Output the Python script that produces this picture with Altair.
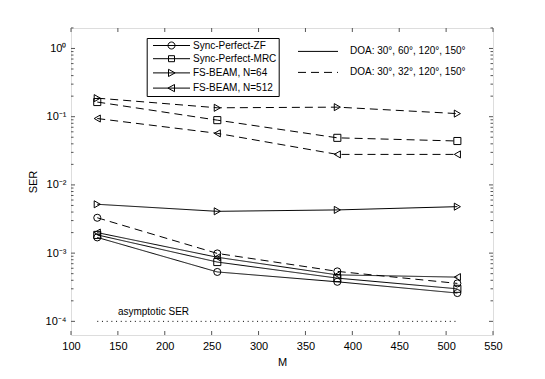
import altair as alt
import pandas as pd

# ---------------- data ----------------
M = [128, 256, 384, 512]
series_names = ["Sync-Perfect-ZF", "Sync-Perfect-MRC", "FS-BEAM, N=64", "FS-BEAM, N=512"]
doa_names = ["DOA: 30°, 60°, 120°, 150°", "DOA: 30°, 32°, 120°, 150°"]

# DOA 30,60,120,150 (solid)
zf_solid = [1.7e-3, 5.3e-4, 3.8e-4, 2.6e-4]
mrc_solid = [1.85e-3, 7.4e-4, 4.3e-4, 3.0e-4]
n64_solid = [5.2e-3, 4.1e-3, 4.3e-3, 4.8e-3]
n512_solid = [2.0e-3, 8.7e-4, 4.8e-4, 4.45e-4]
# DOA 30,32,120,150 (dashed)
zf_dashed = [3.3e-3, 9.9e-4, 5.4e-4, 3.6e-4]
mrc_dashed = [0.164, 0.089, 0.049, 0.044]
n64_dashed = [0.187, 0.135, 0.138, 0.111]
n512_dashed = [0.094, 0.057, 0.028, 0.028]

asym_M = [128, 512]
asym_SER = [1e-4, 1e-4]
asym_label = "asymptotic SER"

x_ticks = [100, 150, 200, 250, 300, 350, 400, 450, 500, 550]
y_major = [1e-4, 1e-3, 1e-2, 1e-1, 1.0]
y_minor = [m * d for d in [1e-4, 1e-3, 1e-2, 1e-1] for m in range(2, 10)] + [2.0]

# ---------------- tables ----------------
rows = []
table = {
    (series_names[0], doa_names[0]): zf_solid,
    (series_names[1], doa_names[0]): mrc_solid,
    (series_names[2], doa_names[0]): n64_solid,
    (series_names[3], doa_names[0]): n512_solid,
    (series_names[0], doa_names[1]): zf_dashed,
    (series_names[1], doa_names[1]): mrc_dashed,
    (series_names[2], doa_names[1]): n64_dashed,
    (series_names[3], doa_names[1]): n512_dashed,
}
for (s, d), vals in table.items():
    for m, v in zip(M, vals):
        rows.append({"M": m, "SER": v, "series": s, "doa": d})
df = pd.DataFrame(rows)

asym_df = pd.DataFrame({"M": asym_M, "SER": asym_SER})
asym_txt = pd.DataFrame({"M": [150], "SER": [1.38e-4], "label": [asym_label]})
xt_df = pd.DataFrame({"t": x_ticks})
ymaj_df = pd.DataFrame({"t": y_major})
ymin_df = pd.DataFrame({"t": y_minor})

W, H = 422, 307
FONT = "Liberation Sans"
BOX = "#555555"

xscale = alt.Scale(domain=[100, 550], nice=False, zero=False)
yscale = alt.Scale(type="log", domain=[10 ** -4.2, 10 ** 0.3], nice=False)

sup_expr = ("'10' + (datum.value >= 1 ? '⁰' : datum.value >= 0.1 ? '⁻¹' : "
            "datum.value >= 0.01 ? '⁻²' : datum.value >= 0.001 ? '⁻³' : '⁻⁴')")

x_enc = alt.X("M:Q", scale=xscale,
              axis=alt.Axis(values=x_ticks, ticks=False, domain=False, grid=False,
                            labelFontSize=11, labelPadding=5, title="M",
                            titleFontSize=11, titleFontWeight="normal", titlePadding=5,
                            labelFlush=False, labelColor="black", titleColor="black"))
y_enc = alt.Y("SER:Q", scale=yscale,
              axis=alt.Axis(values=y_major, ticks=False, domain=False, grid=False,
                            labelExpr=sup_expr, labelFontSize=11, labelPadding=5,
                            title="SER", titleFontSize=11, titleFontWeight="normal",
                            titlePadding=7, labelColor="black", titleColor="black"))

dash_scale = alt.Scale(domain=doa_names, range=[[1, 0], [8, 5]])

lines = alt.Chart(df).mark_line(color="black", strokeWidth=1).encode(
    x=x_enc, y=y_enc,
    detail="series:N",
    strokeDash=alt.StrokeDash("doa:N", scale=dash_scale,
                              legend=alt.Legend(title=None, orient="none", legendX=227,
                                                legendY=17.9, symbolType="M-4,0H4",
                                                symbolSize=100, symbolStrokeColor="black",
                                                symbolStrokeWidth=1, symbolOffset=14.5,
                                                labelOffset=26.5, rowPadding=10, padding=0,
                                                labelFontSize=10, labelFont=FONT,
                                                labelColor="black", labelLimit=300)),
)

points = alt.Chart(df).mark_point(filled=False, color="black", strokeWidth=1, size=50, opacity=1).encode(
    x="M:Q", y="SER:Q",
    shape=alt.Shape("series:N", scale=alt.Scale(domain=series_names,
                                                range=["circle", "square", "triangle-right", "triangle-left"]),
                    legend=None),
)

legend_paths = [
    "M-3.7,0H3.7M0.7,0A0.7,0.7,0,1,1,-0.7,0A0.7,0.7,0,1,1,0.7,0",
    "M-3.7,0H3.7M-0.6,-0.6H0.6V0.6H-0.6Z",
    "M-3.7,0H3.7M-0.6,-0.72L0.72,0L-0.6,0.72Z",
    "M-3.7,0H3.7M0.6,-0.72L-0.72,0L0.6,0.72Z",
]
legend_layer = alt.Chart(df).transform_filter("false").mark_point(
    filled=False, color="black", strokeWidth=1, opacity=1
).encode(
    x="M:Q", y="SER:Q",
    shape=alt.Shape("series:N", scale=alt.Scale(domain=series_names, range=legend_paths),
                    legend=alt.Legend(title=None, orient="none", legendX=75.7, legendY=10,
                                      symbolSize=100, symbolStrokeColor="black",
                                      symbolFillColor="transparent", symbolStrokeWidth=1,
                                      symbolOffset=17.3, labelOffset=16, rowPadding=2.2,
                                      padding=2, strokeColor="black", fillColor="white",
                                      labelFontSize=10, labelFont=FONT, labelColor="black",
                                      labelLimit=300)),
)

asym_line = alt.Chart(asym_df).mark_line(color="black", strokeWidth=1, strokeDash=[1, 3.7]).encode(
    x="M:Q", y="SER:Q")
asym_text = alt.Chart(asym_txt).mark_text(align="left", baseline="middle", fontSize=10,
                                           font=FONT, color="black").encode(
    x="M:Q", y="SER:Q", text="label:N")

# inward ticks
tb = alt.Chart(xt_df).mark_rule(color=BOX, strokeWidth=1).encode(
    x=alt.X("t:Q", scale=xscale), y=alt.value(H), y2=alt.value(H - 4))
tt = alt.Chart(xt_df).mark_rule(color=BOX, strokeWidth=1).encode(
    x=alt.X("t:Q", scale=xscale), y=alt.value(0), y2=alt.value(4))
yl = alt.Chart(ymaj_df).mark_rule(color=BOX, strokeWidth=1).encode(
    y=alt.Y("t:Q", scale=yscale), x=alt.value(0), x2=alt.value(4))
yr = alt.Chart(ymaj_df).mark_rule(color=BOX, strokeWidth=1).encode(
    y=alt.Y("t:Q", scale=yscale), x=alt.value(W), x2=alt.value(W - 4))
yml = alt.Chart(ymin_df).mark_rule(color=BOX, strokeWidth=1).encode(
    y=alt.Y("t:Q", scale=yscale), x=alt.value(0), x2=alt.value(2.5))
ymr = alt.Chart(ymin_df).mark_rule(color=BOX, strokeWidth=1).encode(
    y=alt.Y("t:Q", scale=yscale), x=alt.value(W), x2=alt.value(W - 2.5))

chart = alt.layer(
    tb, tt, yl, yr, yml, ymr, asym_line, asym_text, lines, points, legend_layer
).resolve_scale(shape="independent").properties(
    width=W, height=H,
    autosize=alt.AutoSizeParams(type="none"),
    padding={"left": 63, "top": 20, "right": 40, "bottom": 36},
).configure_view(stroke=BOX, strokeWidth=1).configure_axis(
    labelFont=FONT, titleFont=FONT
).configure(background="white")

chart.save("out.html", embed_options={"renderer": "svg", "actions": False})
